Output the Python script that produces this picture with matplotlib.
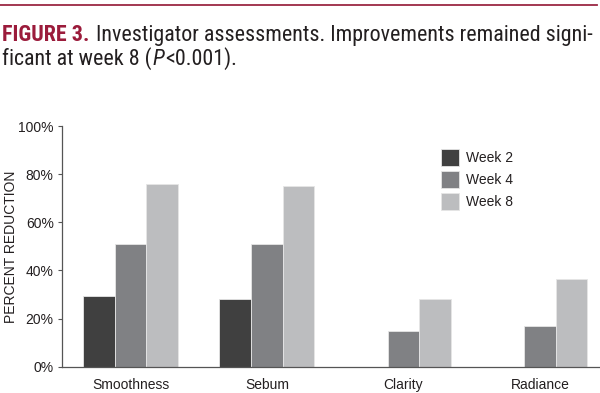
import matplotlib
matplotlib.use("Agg")
import matplotlib.pyplot as plt
import numpy as np
from matplotlib import font_manager

categories = ["Smoothness", "Sebum", "Clarity", "Radiance"]
series_names = ["Week 2", "Week 4", "Week 8"]
week2 = [29.2, 28.2, 0, 0]
week4 = [51.0, 51.0, 14.7, 16.8]
week8 = [76.1, 75.0, 28.2, 36.5]
yticks = [0, 20, 40, 60, 80, 100]
ytick_labels = ["0%", "20%", "40%", "60%", "80%", "100%"]
colors = ["#404040", "#808184", "#bcbdbf"]

# pick a condensed font family that has a bold weight
fonts = {}
for f in font_manager.fontManager.ttflist:
    fonts.setdefault(f.name, set()).add(f.weight if isinstance(f.weight, int) else 400)
prefs = ["Roboto Condensed", "Liberation Sans Narrow", "Archivo Narrow", "Asap Condensed",
         "Barlow Semi Condensed", "Barlow Condensed"]
narrow = None
for p in prefs:
    if p in fonts and any(w >= 600 for w in fonts[p]) and any(w == 400 for w in fonts[p]):
        narrow = p
        break
if narrow is None:
    narrow = "Liberation Sans"

plt.rcParams['font.family'] = ['Liberation Sans', 'DejaVu Sans']

fig = plt.figure(figsize=(6.0, 3.93), dpi=100)
W, H = 600, 393
ax = fig.add_axes([62 / W, 1 - 366.7 / H, (600 - 62) / W, (366.7 - 126) / H])

x = np.arange(len(categories))
bw = 0.232
for i, (vals, c, name) in enumerate(zip([week2, week4, week8], colors, series_names)):
    ax.bar(x + (i - 1) * bw, vals, width=bw, color=c, edgecolor="#e6e6e6",
           linewidth=0.6, label=name, zorder=2)

ax.set_xlim(-0.502, 3.44)
ax.set_ylim(0, 100)
ax.set_yticks(yticks)
ax.set_yticklabels(ytick_labels, fontsize=10, color="#231f20")
ax.set_xticks(x)
ax.set_xticklabels(categories, fontsize=10, color="#231f20")
ax.tick_params(axis="x", length=0, pad=8)
ax.tick_params(axis="y", length=3, width=0.8, color="#555555", pad=3)
for s in ["top", "right"]:
    ax.spines[s].set_visible(False)
for s in ["left", "bottom"]:
    ax.spines[s].set_color("#555555")
    ax.spines[s].set_linewidth(0.9)
ax.set_ylabel("PERCENT REDUCTION", fontsize=10, color="#231f20")
ax.yaxis.set_label_coords((18 - 62) / (600 - 62), 0.5)

leg = ax.legend(loc="upper left", bbox_to_anchor=((435 - 62) / (600 - 62), 1 - (143 - 126) / (366.7 - 126)),
                frameon=False, fontsize=10, handlelength=1.35, handleheight=1.6,
                handletextpad=0.45, labelspacing=0.3, borderaxespad=0)
for t in leg.get_texts():
    t.set_color("#231f20")

# top rule
fig.add_artist(plt.Line2D([0, 597 / W], [1 - 5 / H, 1 - 5 / H], color="#9b2743", linewidth=1.3))

# caption
red = "#9b1b3b"
fam = [narrow, "DejaVu Sans"]
line1_rest = "Investigator assessments. Improvements remained signi-"

def caption(fs):
    arts = []
    t1 = fig.text(2 / W, 1 - 41 / H, "FIGURE 3.", fontsize=fs, fontweight="bold", color=red,
                  family=fam, va="baseline", ha="left")
    arts.append(t1)
    fig.canvas.draw()
    bb = t1.get_window_extent()
    t2 = fig.text((bb.x1 + fs * 0.4) / W, 1 - 41 / H, line1_rest,
                  fontsize=fs, color="#231f20", family=fam, va="baseline", ha="left")
    arts.append(t2)
    t3 = fig.text(2 / W, 1 - 65 / H, "ficant at week 8 (", fontsize=fs, color="#231f20",
                  family=fam, va="baseline", ha="left")
    arts.append(t3)
    fig.canvas.draw()
    bb3 = t3.get_window_extent()
    t4 = fig.text((bb3.x1 + 1) / W, 1 - 65 / H, "P", fontsize=fs, color="#231f20", style="italic",
                  family=fam, va="baseline", ha="left")
    arts.append(t4)
    fig.canvas.draw()
    bb4 = t4.get_window_extent()
    t5 = fig.text((bb4.x1 + 0.5) / W, 1 - 65 / H, "<0.001).", fontsize=fs, color="#231f20",
                  family=fam, va="baseline", ha="left")
    arts.append(t5)
    fig.canvas.draw()
    return arts, t2.get_window_extent().x1

fs = 16
for _ in range(3):
    arts, right = caption(fs)
    if abs(right - 593) < 2:
        break
    for a in arts:
        a.remove()
    fs = fs * (593 - 2) / (right - 2)
else:
    arts, right = caption(fs)

fig.savefig("out.png", dpi=100)
